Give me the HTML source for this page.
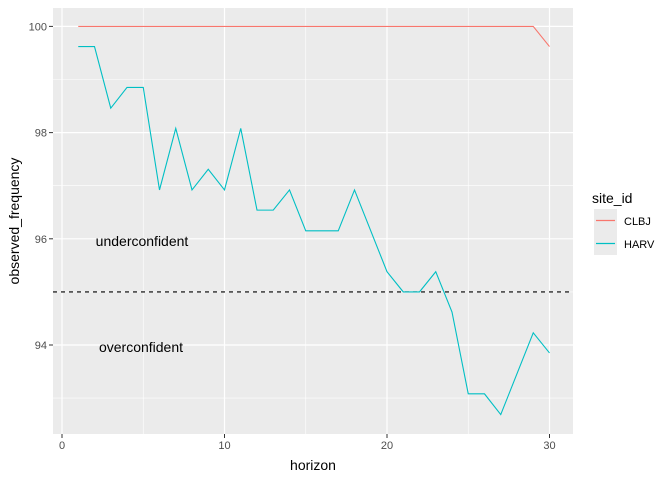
<!DOCTYPE html>
<html><head><meta charset="utf-8"><style>
body{margin:0;background:#fff;font-family:"Liberation Sans",sans-serif}
</style></head><body>
<svg width="672" height="480" xmlns="http://www.w3.org/2000/svg">
<g id="g"></g>
</svg>
<script>
const horizons=[1,2,3,4,5,6,7,8,9,10,11,12,13,14,15,16,17,18,19,20,21,22,23,24,25,26,27,28,29,30];
const clbj=[100,100,100,100,100,100,100,100,100,100,100,100,100,100,100,100,100,100,100,100,100,100,100,100,100,100,100,100,100,99.62];
const harv=[99.62,99.62,98.46,98.85,98.85,96.92,98.08,96.92,97.31,96.92,98.08,96.54,96.54,96.92,96.15,96.15,96.15,96.92,96.15,95.38,95,95,95.38,94.62,93.08,93.08,92.69,93.46,94.23,93.85];
const xTicks=[0,10,20,30];
const yTicks=[94,96,98,100];
const threshold=95;
const L=53,R=573,T=8,B=434;
const x=v=>62+(v)*16.25;
const y=v=>345-(v-94)*53.1;
const ns="http://www.w3.org/2000/svg";
const g=document.getElementById('g');
function el(t,a,txt){const e=document.createElementNS(ns,t);for(const k in a)e.setAttribute(k,a[k]);if(txt!==undefined)e.textContent=txt;g.appendChild(e);return e;}
let p=el('rect',{x:L,y:T,width:R-L,height:B-T,fill:'#ebebeb'});


for(let i=0;i<xTicks.length;i++){const v=xTicks[i];
 if(i<xTicks.length-1){let m=el('line',{x1:x(v+5),x2:x(v+5),y1:T,y2:B,stroke:'#fff','stroke-width':0.6});}
 let l=el('line',{x1:x(v),x2:x(v),y1:T,y2:B,stroke:'#fff','stroke-width':1.2});
 let tk=el('line',{x1:x(v),x2:x(v),y1:B,y2:B+4,stroke:'#333'});
 let t=el('text',{x:x(v),y:B+15,'font-size':11,fill:'#4d4d4d','text-anchor':'middle'},v);}
for(let i=0;i<yTicks.length;i++){const v=yTicks[i];
 for(const mv of [v-1,v+1]){if(y(mv)>T&&y(mv)<B&&(mv===v-1||i===yTicks.length-1)){let m=el('line',{x1:L,x2:R,y1:y(mv),y2:y(mv),stroke:'#fff','stroke-width':0.6});}}
 let l=el('line',{x1:L,x2:R,y1:y(v),y2:y(v),stroke:'#fff','stroke-width':1.2});
 let tk=el('line',{x1:L-4,x2:L,y1:y(v),y2:y(v),stroke:'#333'});
 let t=el('text',{x:L-6,y:y(v)+4,'font-size':11,fill:'#4d4d4d','text-anchor':'end'},v);}
let th=el('line',{x1:L,x2:R,y1:y(threshold),y2:y(threshold),stroke:'#000','stroke-dasharray':'4,4','stroke-width':1.1});

function line(vals,col,name){let d=vals.map((v,i)=>(i?'L':'M')+x(horizons[i])+','+y(v)).join(' ');let e=el('path',{d:d,fill:'none',stroke:col,'stroke-width':1.1});}
line(clbj,'#f8766d','line-clbj');
line(harv,'#00bfc4','line-harv');
let a1=el('text',{x:142,y:246,'font-size':14,fill:'#000','text-anchor':'middle'},'underconfident');
let a2=el('text',{x:141,y:352,'font-size':14,fill:'#000','text-anchor':'middle'},'overconfident');
let xt=el('text',{x:313,y:470,'font-size':14,fill:'#000','text-anchor':'middle'},'horizon');
let yt=el('text',{x:0,y:0,'font-size':14,fill:'#000','text-anchor':'middle',transform:'translate(19,221) rotate(-90)'},'observed_frequency');
let lt=el('text',{x:592,y:203,'font-size':14,fill:'#000'},'site_id');
[['CLBJ','#f8766d'],['HARV','#00bfc4']].forEach((s,i)=>{const yy=209+i*23;
 let k=el('rect',{x:594,y:yy,width:23,height:23,fill:'#ebebeb'});
 let l=el('line',{x1:596,x2:615,y1:yy+11.5,y2:yy+11.5,stroke:s[1],'stroke-width':1.3});
 let t=el('text',{x:624,y:yy+16,'font-size':11,fill:'#000'},s[0]);});
</script>
</body></html>
